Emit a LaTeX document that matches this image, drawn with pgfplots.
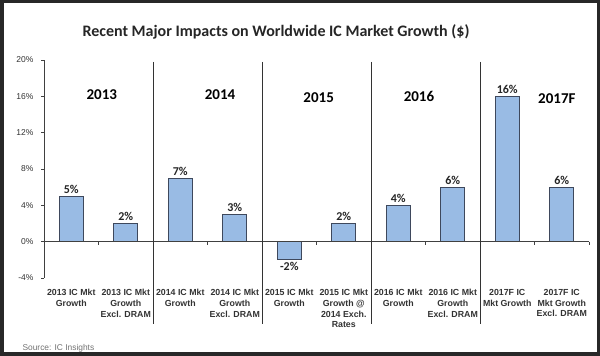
\documentclass[border=0pt]{standalone}
\usepackage{pgfplots}
\pgfplotsset{compat=1.18}
\usepackage{fontspec}
\setmainfont{Liberation Sans}
\newfontfamily\calibri{Carlito}
\definecolor{barfill}{RGB}{153,187,228}
\definecolor{baredge}{RGB}{62,72,92}
\definecolor{frame}{RGB}{40,40,40}
\begin{document}
\begin{tikzpicture}
\fill[white] (0pt,0pt) rectangle (600pt,356pt);
\useasboundingbox (0pt,0pt) rectangle (600pt,356pt);
\begin{axis}[
  at={(44pt,78pt)}, anchor=south west,
  scale only axis, width=545pt, height=218pt,
  xmin=-0.5, xmax=9.5, ymin=-4, ymax=20,
  clip=false,
  axis y line*=left,
  axis x line*=bottom,
  x axis line style={draw=none},
  y axis line style={draw=black!75, line width=0.8pt},
  xtick={0,...,9},
  xtick style={draw=none},
  xticklabels={{2013 IC Mkt\\Growth},{2013 IC Mkt\\Growth\\Excl. DRAM},{2014 IC Mkt\\Growth},{2014 IC Mkt\\Growth\\Excl. DRAM},{2015 IC Mkt\\Growth},{2015 IC Mkt\\Growth @\\2014 Exch.\\Rates},{2016 IC Mkt\\Growth},{2016 IC Mkt\\Growth\\Excl. DRAM},{2017F IC\\Mkt Growth},{2017F IC\\Mkt Growth\\Excl. DRAM}},
  xticklabel style={align=center, font=\bfseries\fontsize{8.8}{10.8}\selectfont, text=black!80, inner sep=1pt, yshift=-7pt},
  ytick={-4,0,4,8,12,16,20},
  yticklabel={\pgfmathprintnumber{\tick}\%},
  /pgf/number format/assume math mode=true,
  yticklabel style={font=\fontsize{8.5}{9}\selectfont, text=black!80, xshift=-4pt},
  ytick style={draw=black!75, line width=0.8pt},
  tick align=outside,
  major tick length=3pt,
]
\addplot[ybar, bar width=0.44, fill=barfill, draw=baredge, line width=0.8pt,
  nodes near coords={\pgfmathprintnumber{\pgfplotspointmeta}\%},
  nodes near coords align=vertical, point meta=y,
  every node near coord/.append style={font=\calibri\bfseries\fontsize{12}{12}\selectfont, text=black!85, inner sep=2pt}]
  coordinates {(0,5) (1,2) (2,7) (3,3) (4,-2) (5,2) (6,4) (7,6) (8,16) (9,6)};
\draw[black!75, line width=0.8pt] (axis cs:-0.5,0) -- (axis cs:9.5,0);
\pgfplotsinvokeforeach{0.5,1.5,2.5,3.5,4.5,5.5,6.5,7.5,8.5,9.5}{
  \draw[black!75, line width=0.8pt] (axis cs:#1,0) -- (axis cs:#1,-0.33);
}
\pgfplotsinvokeforeach{1.5,3.5,5.5,7.5}{
  \draw[black!80, line width=1pt] (axis cs:#1,19.8) -- (axis cs:#1,-9.1);
}
\node[font=\calibri\bfseries\fontsize{15}{15}\selectfont] at (axis cs:0.56,16.15) {2013};
\node[font=\calibri\bfseries\fontsize{15}{15}\selectfont] at (axis cs:2.73,16.15) {2014};
\node[font=\calibri\bfseries\fontsize{15}{15}\selectfont] at (axis cs:4.54,15.9) {2015};
\node[font=\calibri\bfseries\fontsize{15}{15}\selectfont] at (axis cs:6.38,16.0) {2016};
\node[font=\calibri\bfseries\fontsize{15}{15}\selectfont] at (axis cs:8.91,15.7) {2017F};
\end{axis}
\node[font=\calibri\bfseries\fontsize{16}{16}\selectfont, text=black!85] at (276pt,324pt) {Recent Major Impacts on Worldwide IC Market Growth (\$)};
\node[anchor=west, font=\fontsize{8.4}{9}\selectfont, text=black!55] at (19pt,8pt) {Source: IC Insights};
\draw[frame, line width=3.5pt] (1.75pt,1.75pt) rectangle (598.25pt,354.25pt);
\end{tikzpicture}
\end{document}
